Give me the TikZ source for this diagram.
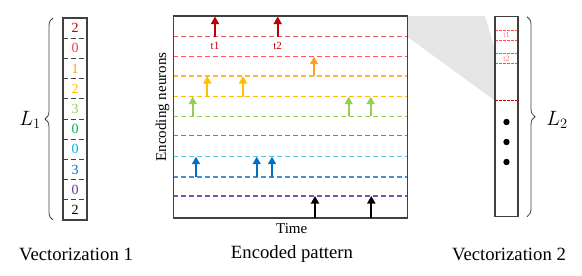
\documentclass[tikz,border=0pt]{standalone}
\usepackage{fontspec}
\setmainfont{Liberation Serif}
\usetikzlibrary{arrows.meta,decorations.pathreplacing}
\definecolor{cdred}{HTML}{C00000}
\definecolor{cred}{HTML}{FF3B3B}
\definecolor{lred}{HTML}{E05A5A}
\definecolor{lred2}{HTML}{FF5A5A}
\definecolor{corange}{HTML}{FFA020}
\definecolor{lorange}{HTML}{FFB448}
\definecolor{cgold}{HTML}{FFC000}
\definecolor{clgreen}{HTML}{92D050}
\definecolor{cgreen}{HTML}{00B050}
\definecolor{lgreen}{HTML}{30B060}
\definecolor{clblue}{HTML}{00B0F0}
\definecolor{llblue}{HTML}{50C8F0}
\definecolor{cblue}{HTML}{0070C0}
\definecolor{lblue}{HTML}{4A90D0}
\definecolor{cpurple}{HTML}{7030A0}
\definecolor{lpurple}{HTML}{8050B0}
\definecolor{frame}{HTML}{404040}
\begin{document}
\begin{tikzpicture}[x=1pt,y=-1pt,
  spk/.style={-{Triangle[width=8pt,length=7.5pt]}, line width=1.7pt},
  nl/.style={dash pattern=on 5pt off 3pt, line width=1.3pt},
  cellsep/.style={dash pattern=on 5pt off 3pt, line width=0.9pt, frame},
  bx/.style={draw=frame, line width=1.4pt},
  digit/.style={font=\fontsize{14}{16}\selectfont, inner sep=0pt},
  big/.style={font=\fontsize{18.7}{22}\selectfont, inner sep=0pt},
  mathl/.style={font=\fontsize{22}{26}\selectfont, inner sep=0pt},
  axis/.style={font=\fontsize{15}{18}\selectfont, inner sep=0pt},
  brc/.style={decorate, decoration={brace, amplitude=8pt}, line width=0.8pt, black!75}]
\useasboundingbox (0,0) rectangle (582,276);

% zoom projection
\fill[gray!20] (407.3,16) -- (485,16) -- (495,50) -- (495,100.7) -- (407.3,36.7) -- cycle;

% ---------- left vector ----------
\foreach \i in {1,...,9}{
  \draw[cellsep] (63,18+20.2*\i) -- (87,18+20.2*\i);
}
\draw[bx, line width=1.8pt] (63,18) rectangle (87,220);
\foreach \d/\c [count=\i from 0] in {2/cdred,0/cred,1/corange,2/cgold,3/clgreen,0/cgreen,0/clblue,3/cblue,0/cpurple,2/black}{
  \node[digit, text=\c] (d\i) at (75,18+20.2*\i+10.1) {\d};
}
\draw[brc] (53,220) -- (53,18);
\node[mathl] (L1) at (30,120) {$L_1$};

% ---------- encoded pattern ----------
\foreach \y/\c in {36.7/lred,56.7/lred2,76/lorange,96.7/cgold,116.3/clgreen,135.3/lgreen,156.7/llblue,177/lblue,196/lpurple}{
  \draw[nl, \c] (173.3,\y) -- (407.3,\y);
}
\draw[bx] (173.3,16) rectangle (407.3,218);

\foreach \x in {215,277.7}{ \draw[spk, cdred] (\x,36.7) -- (\x,16.5); }
\node[font=\fontsize{11}{12}\selectfont, text=cdred, inner sep=0pt] (t1) at (215,45.5) {t1};
\node[font=\fontsize{11}{12}\selectfont, text=cdred, inner sep=0pt] (t2) at (277.7,45.5) {t2};
\draw[spk, corange] (314,76) -- (314,56.7);
\foreach \x in {207.3,243}{ \draw[spk, cgold] (\x,96.7) -- (\x,76); }
\foreach \x in {192.7,348.7,370.7}{ \draw[spk, clgreen] (\x,116.3) -- (\x,96.7); }
\foreach \x in {196,256.7,272}{ \draw[spk, cblue] (\x,177) -- (\x,156.7); }
\foreach \x in {315,371.3}{ \draw[spk, black] (\x,218) -- (\x,196); }

\node[axis, rotate=90] (yl) at (162.5,107) {Encoding neurons};
\node[axis] (xl) at (291.7,228.5) {Time};

% ---------- right vector ----------
\foreach \y in {30.7,40,53.7,63.3}{ \draw[red!70, dash pattern=on 2.5pt off 1.5pt, line width=0.8pt] (495,\y) -- (518,\y); }
\node[font=\fontsize{8}{9}\selectfont, text=red!55, inner sep=0pt] (r1) at (506.5,35.3) {t1};
\node[font=\fontsize{8}{9}\selectfont, text=red!55, inner sep=0pt] (r2) at (506.5,58.5) {t2};
\draw[cdred, dash pattern=on 2.5pt off 1.5pt, line width=0.9pt] (495,100.7) -- (518,100.7);
\foreach \y in {122,142,162}{ \fill (506.5,\y) circle (3.2pt); }
\draw[bx] (495,16.7) rectangle (518,216.7);
\draw[brc] (527,16.7) -- (527,216.7);
\node[mathl] (L2) at (557,120) {$L_2$};

% ---------- captions ----------
\node[big] (c1) at (76,254) {Vectorization 1};
\node[big] (c2) at (292,254) {Encoded pattern};
\node[big] (c3) at (509,254) {Vectorization 2};
\end{tikzpicture}
\end{document}
